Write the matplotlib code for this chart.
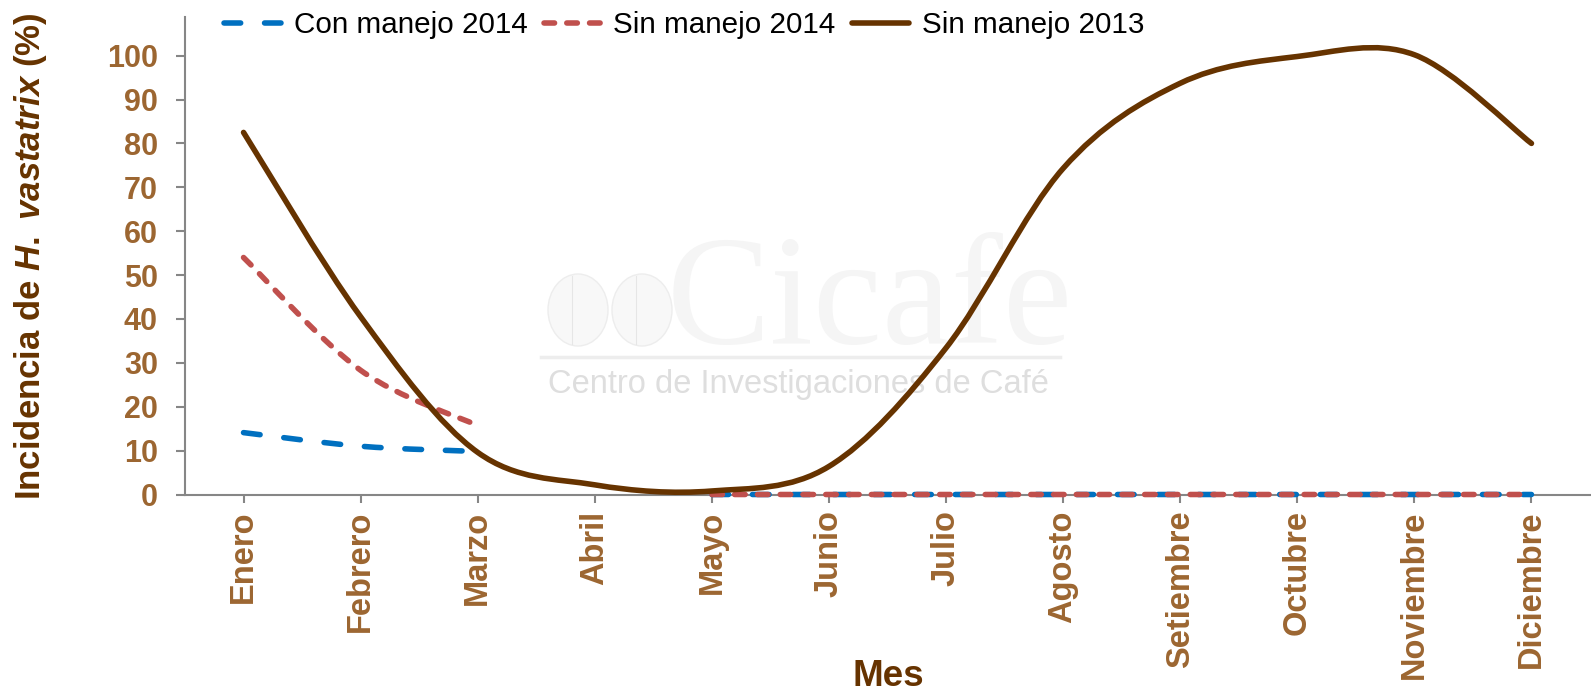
import numpy as np
import matplotlib
matplotlib.use('Agg')
import matplotlib.pyplot as plt
from matplotlib.path import Path
from matplotlib.patches import PathPatch, Ellipse
from matplotlib.lines import Line2D

plt.rcParams['font.family'] = ['Liberation Sans', 'DejaVu Sans']
plt.rcParams['mathtext.fontset'] = 'custom'
plt.rcParams['mathtext.it'] = 'Liberation Sans:italic:bold'
plt.rcParams['mathtext.rm'] = 'Liberation Sans:bold'

# ---------------- data ----------------
months = ['Enero', 'Febrero', 'Marzo', 'Abril', 'Mayo', 'Junio', 'Julio',
          'Agosto', 'Setiembre', 'Octubre', 'Noviembre', 'Diciembre']
con_manejo_2014 = [14.1, 11.0, 9.8, np.nan, 0, 0, 0, 0, 0, 0, 0, 0]
sin_manejo_2014 = [54.0, 28.3, 15.7, np.nan, 0, 0, 0, 0, 0, 0, 0, 0]
sin_manejo_2013 = [82.5, 40.5, 9.6, 2.2, 0.8, 6.4, 33.4, 74.3, 93.7, 99.8, 100.2, 80.0]
y_ticks = [0, 10, 20, 30, 40, 50, 60, 70, 80, 90, 100]
series_names = ['Con manejo 2014', 'Sin manejo 2014', 'Sin manejo 2013']

# ---------------- style ----------------
BLUE = '#0070C0'
RED = '#C0504D'
BROWN = '#663300'
TICKC = '#9C6631'
AXC = '#868686'
LW = 4.0

W, H = 1591, 692
fig = plt.figure(figsize=(W / 100, H / 100), dpi=100)
ax = fig.add_axes([185 / W, 1 - 494.5 / H, (1590 - 185) / W, (494.5 - 17) / H])
ax.set_facecolor('none')


def smooth_path(xs, ys):
    """Excel-like smoothed line (Catmull-Rom cubic Bezier) through the data points."""
    verts, codes = [], []
    pts = np.column_stack([xs, ys]).astype(float)
    runs, cur = [], []
    for p in pts:
        if np.isnan(p[1]):
            if cur:
                runs.append(cur)
            cur = []
        else:
            cur.append(p)
    if cur:
        runs.append(cur)
    for run in runs:
        run = np.array(run)
        n = len(run)
        verts.append(run[0]); codes.append(Path.MOVETO)
        for i in range(n - 1):
            pm = run[i - 1] if i > 0 else run[i]
            pp = run[i + 2] if i + 2 < n else run[i + 1]
            c1 = run[i] + (run[i + 1] - pm) / 6.0
            c2 = run[i + 1] - (pp - run[i]) / 6.0
            verts += [c1, c2, run[i + 1]]
            codes += [Path.CURVE4] * 3
    return Path(np.array(verts), codes)


x = np.arange(len(months))
styles = [
    dict(color=BLUE, ls=(0, (3.0, 4.3))),
    dict(color=RED, ls=(0, (1.9, 2.2))),
    dict(color=BROWN, ls='-'),
]
handles = []
for vals, st, name in zip([con_manejo_2014, sin_manejo_2014, sin_manejo_2013], styles, series_names):
    patch = PathPatch(smooth_path(x, vals), fill=False, edgecolor=st['color'], lw=LW,
                      linestyle=st['ls'], capstyle='round', joinstyle='round', zorder=3,
                      clip_on=False)
    ax.add_patch(patch)
    h = Line2D([], [], color=st['color'], lw=LW, linestyle=st['ls'],
               dash_capstyle='round', solid_capstyle='round')
    handles.append(h)

ax.set_xlim(-0.5, len(months) - 0.5)
ax.set_ylim(0, 108.8)
ax.set_xticks(x)
ax.set_xticklabels(months, rotation=90, fontsize=23.5, fontweight='bold', color=TICKC)
ax.set_yticks(y_ticks)
ax.set_yticklabels([str(v) for v in y_ticks], fontsize=22, fontweight='bold', color=TICKC)
ax.tick_params(axis='y', length=6.5, width=1.5, color=AXC, pad=13)
ax.tick_params(axis='x', length=5.5, width=1.5, color=AXC, pad=6)
for s in ['top', 'right']:
    ax.spines[s].set_visible(False)
for s in ['left', 'bottom']:
    ax.spines[s].set_color(AXC)
    ax.spines[s].set_linewidth(1.5)
ax.spines['bottom'].set_zorder(2.5)

# axis titles
fig.text(888 / W, 1 - 677 / H, 'Mes', ha='center', va='center', fontsize=26.5,
         fontweight='bold', color=BROWN)
fig.text(31 / W, 1 - 256 / H, r'Incidencia de $\mathit{H.}$ $\mathit{vastatrix}$ (%)', rotation=90,
         ha='center', va='center', fontsize=25, fontweight='bold', color=BROWN)

# legend
leg = fig.legend(handles, series_names, loc='center', bbox_to_anchor=(684 / W, 1 - 25 / H),
                 ncol=3, frameon=False, fontsize=21.3, handlelength=1.94, handletextpad=0.42,
                 columnspacing=0.55, borderpad=0, borderaxespad=0)

# faint watermark
wm = dict(transform=fig.transFigure, zorder=0.5)
ax.text(870 / W, 1 - 343 / H, 'Cicafe', ha='center', va='baseline', fontsize=112,
        family=['Liberation Serif', 'DejaVu Serif'], color='#f5f5f5', **wm)
ax.text(798 / W, 1 - 385 / H, 'Centro de Investigaciones de Café', ha='center', va='center',
        fontsize=23.5, color='#dedede', **wm)
ax.add_line(Line2D([541 / W, 1060 / W], [1 - 357 / H, 1 - 357 / H], color='#ededed', lw=2.5, **wm))
for cx in (578, 642):
    ax.add_patch(Ellipse((cx / W, 1 - 310 / H), 60 / W, 72 / H, facecolor='#f8f8f8',
                         edgecolor='#ededed', lw=1, **wm))
    ax.add_line(Line2D([(cx - 6) / W, (cx - 6) / W], [1 - 276 / H, 1 - 344 / H],
                       color='#e6e6e6', lw=0.8, **wm))

fig.savefig('out.png', dpi=100)
